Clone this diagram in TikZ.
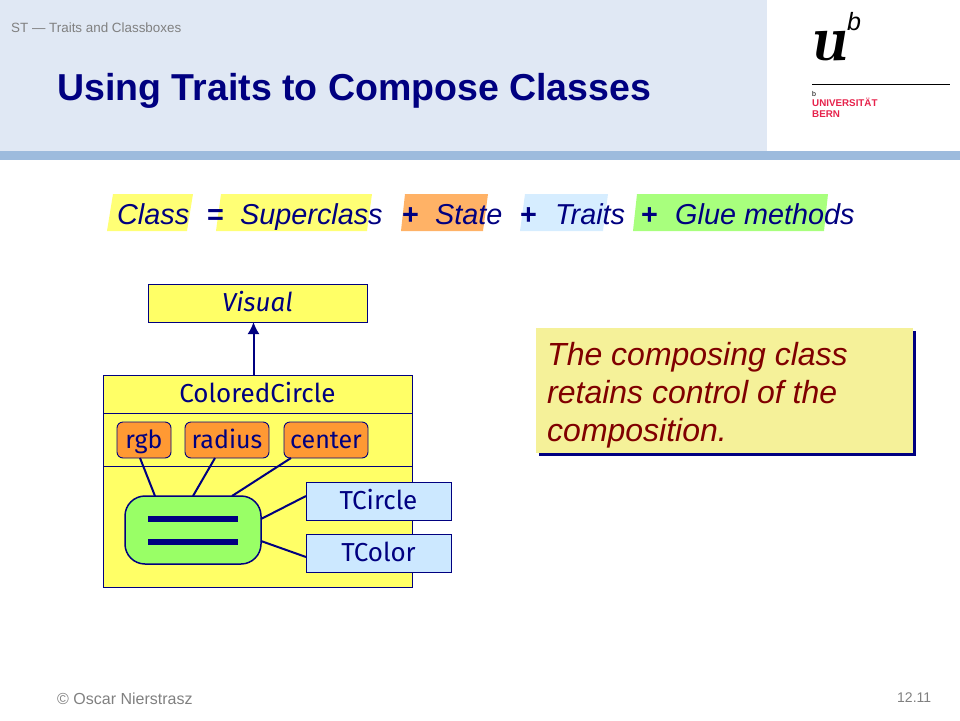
\documentclass[tikz,border=0pt]{standalone}
\usepackage{fontspec}
\usetikzlibrary{arrows.meta}
\setmainfont{Liberation Sans}
\newfontfamily\handfont{Fira Sans}
\definecolor{headblue}{HTML}{E0E8F4}
\definecolor{stripeblue}{HTML}{9DBBDD}
\definecolor{deepnavy}{HTML}{000080}
\definecolor{classyellow}{HTML}{FFFF66}
\definecolor{stateorange}{HTML}{FF9933}
\definecolor{traitblue}{HTML}{CCE8FF}
\definecolor{glueGreen}{HTML}{99FF66}
\definecolor{noteyellow}{HTML}{F5F199}
\definecolor{notered}{HTML}{800000}
\definecolor{bernred}{HTML}{E6224B}
\tikzset{
    small text/.style={text=gray, inner sep=0pt, anchor=base west, font=\fontsize{#1}{#1}\selectfont},
    formula/.style={text=deepnavy, inner sep=0pt, anchor=base west, font=\fontsize{28.8}{28.8}\selectfont\itshape},
    formula op/.style={text=deepnavy, inner sep=0pt, anchor=base west, font=\fontsize{28.8}{28.8}\selectfont},
    classbox/.style={draw=deepnavy, fill=classyellow, line width=0.9pt, inner sep=0pt, outer sep=0pt, anchor=north west, text=deepnavy, text height=18pt, text depth=2pt, font=\handfont\fontsize{26}{26}\selectfont},
    traitbox/.style={classbox, fill=traitblue},
    statebox/.style={classbox, fill=stateorange, rounded corners=6pt, minimum height=36pt, font=\handfont\fontsize{25}{25}\selectfont},
    note text/.style={inner sep=0pt, anchor=base west, text=notered, font=\fontsize{32}{38}\selectfont\itshape},
    bern text/.style={inner sep=0pt, anchor=base west, text=bernred, font=\fontsize{9.8}{9.8}\selectfont\bfseries},
    link/.style={draw=deepnavy, line width=2pt}
}
\begin{document}
\begin{tikzpicture}[x=1pt,y=-1pt]
    \useasboundingbox (0,0) rectangle (960,720);

    % header
    \fill[headblue] (0,0) rectangle (767,151);
    \fill[stripeblue] (0,151) rectangle (960,160);
    \node[small text=13.4] (course) at (11,32) {ST --- Traits and Classboxes};
    \node[inner sep=0pt, anchor=base west, text=deepnavy, font=\fontsize{37.5}{37.5}\selectfont\bfseries] (title) at (57,100) {Using Traits to Compose Classes};

    % logo
    \node[inner sep=0pt, anchor=base west, font=\fontfamily{lmr}\fontsize{65}{65}\selectfont\bfseries\itshape] (logoU) at (809,60) {u};
    \node[inner sep=0pt, anchor=base west, font=\fontsize{25}{25}\selectfont\itshape] (logoB) at (847,30) {b};
    \coordinate (ruleL) at (812,84.5);
    \coordinate (ruleR) at (950,84.5);
    \draw[line width=1.5pt] (ruleL) -- (ruleR);
    \node[inner sep=0pt, anchor=base west, font=\fontsize{7}{7}\selectfont] (logoS) at (812,96) {b};
    \node[bern text] (logoUni) at (812,106.5) {UNIVERSITÄT};
    \node[bern text] (logoBern) at (812,117.5) {BERN};

    % formula
    \fill[classyellow!90!white] (113,194) -- (193,194) -- (187,231) -- (107,231) -- cycle;
    \fill[classyellow!90!white] (221,194) -- (372,194) -- (367,231) -- (216,231) -- cycle;
    \fill[stateorange!75!white] (405,194) -- (488,194) -- (483,231) -- (401,231) -- cycle;
    \fill[traitblue!80!white] (525,194) -- (608,194) -- (603,231) -- (520,231) -- cycle;
    \fill[glueGreen!85!white] (637,194) -- (828,194) -- (824,231) -- (633,231) -- cycle;
    \node[formula] (fClass) at (117,224) {Class};
    \node[formula op] (fEq) at (207,224) {\textbf{=}};
    \node[formula] (fSuper) at (240,224) {Superclass};
    \node[formula op] (fPlusA) at (402,224) {\textbf{+}};
    \node[formula] (fState) at (435,224) {State};
    \node[formula op] (fPlusB) at (520,224) {\textbf{+}};
    \node[formula] (fTraits) at (555,224) {Traits};
    \node[formula op] (fPlusC) at (641,224) {\textbf{+}};
    \node[formula] (fGlue) at (675,224) {Glue methods};

    % classes
    \node[classbox, minimum width=219pt, minimum height=38pt] (visual) at (148,284) {\itshape Visual};
    \node[classbox, minimum width=309pt, minimum height=38pt] (ccName) at (103,375) {ColoredCircle};
    \node[classbox, minimum width=309pt, minimum height=53pt] (ccState) at (103,413) {};
    \node[classbox, minimum width=309pt, minimum height=121pt] (ccBody) at (103,466) {};

    \node[statebox, minimum width=54pt] (rgb) at (117,422) {rgb};
    \node[statebox, minimum width=84pt] (radius) at (185,422) {radius};
    \node[statebox, minimum width=84pt] (center) at (284,422) {center};

    \node[classbox, fill=glueGreen, line width=1.5pt, rounded corners=20pt, minimum width=136pt, minimum height=68pt] (glue) at (125,496) {};
    \node[traitbox, minimum width=145pt, minimum height=38pt] (tcircle) at (306,482) {TCircle};
    \node[traitbox, minimum width=145pt, minimum height=38pt] (tcolor) at (306,534) {TColor};

    % equals sign in the glue box
    \fill[deepnavy] ([xshift=23pt,yshift=-20pt]glue.north west) rectangle ([xshift=113pt,yshift=-26pt]glue.north west);
    \fill[deepnavy] ([xshift=23pt,yshift=-43pt]glue.north west) rectangle ([xshift=113pt,yshift=-49pt]glue.north west);

    \draw[link, -{Latex[length=12pt,width=12pt]}] ([xshift=-4pt]ccName.north) -- ([xshift=-4pt]ccName.north |- visual.south);
    \draw[link] ([xshift=23pt]rgb.south west) -- ([xshift=30pt]glue.north west);
    \draw[link] ([xshift=30pt]radius.south west) -- ([xshift=68pt]glue.north west);
    \draw[link] ([xshift=7pt]center.south west) -- ([xshift=107pt]glue.north west);
    \draw[link] ([yshift=5pt]tcircle.west) -- ([yshift=-23pt]glue.north east);
    \draw[link] ([yshift=-4pt]tcolor.west) -- ([yshift=-45pt]glue.north east);

    % note
    \fill[deepnavy] (539,331) rectangle (916,456);
    \node[fill=noteyellow, inner sep=0pt, outer sep=0pt, anchor=north west, minimum width=377pt, minimum height=125pt] (noteBox) at (536,328) {};
    \node[note text] (noteLineA) at (547,365) {The composing class};
    \node[note text] (noteLineB) at (547,403) {retains control of the};
    \node[note text] (noteLineC) at (547,441) {composition.};

    % footer
    \node[small text=16] (author) at (57,704) {© Oscar Nierstrasz};
    \node[small text=14] (pagenum) at (897,702) {12.11};
\end{tikzpicture}
\end{document}
